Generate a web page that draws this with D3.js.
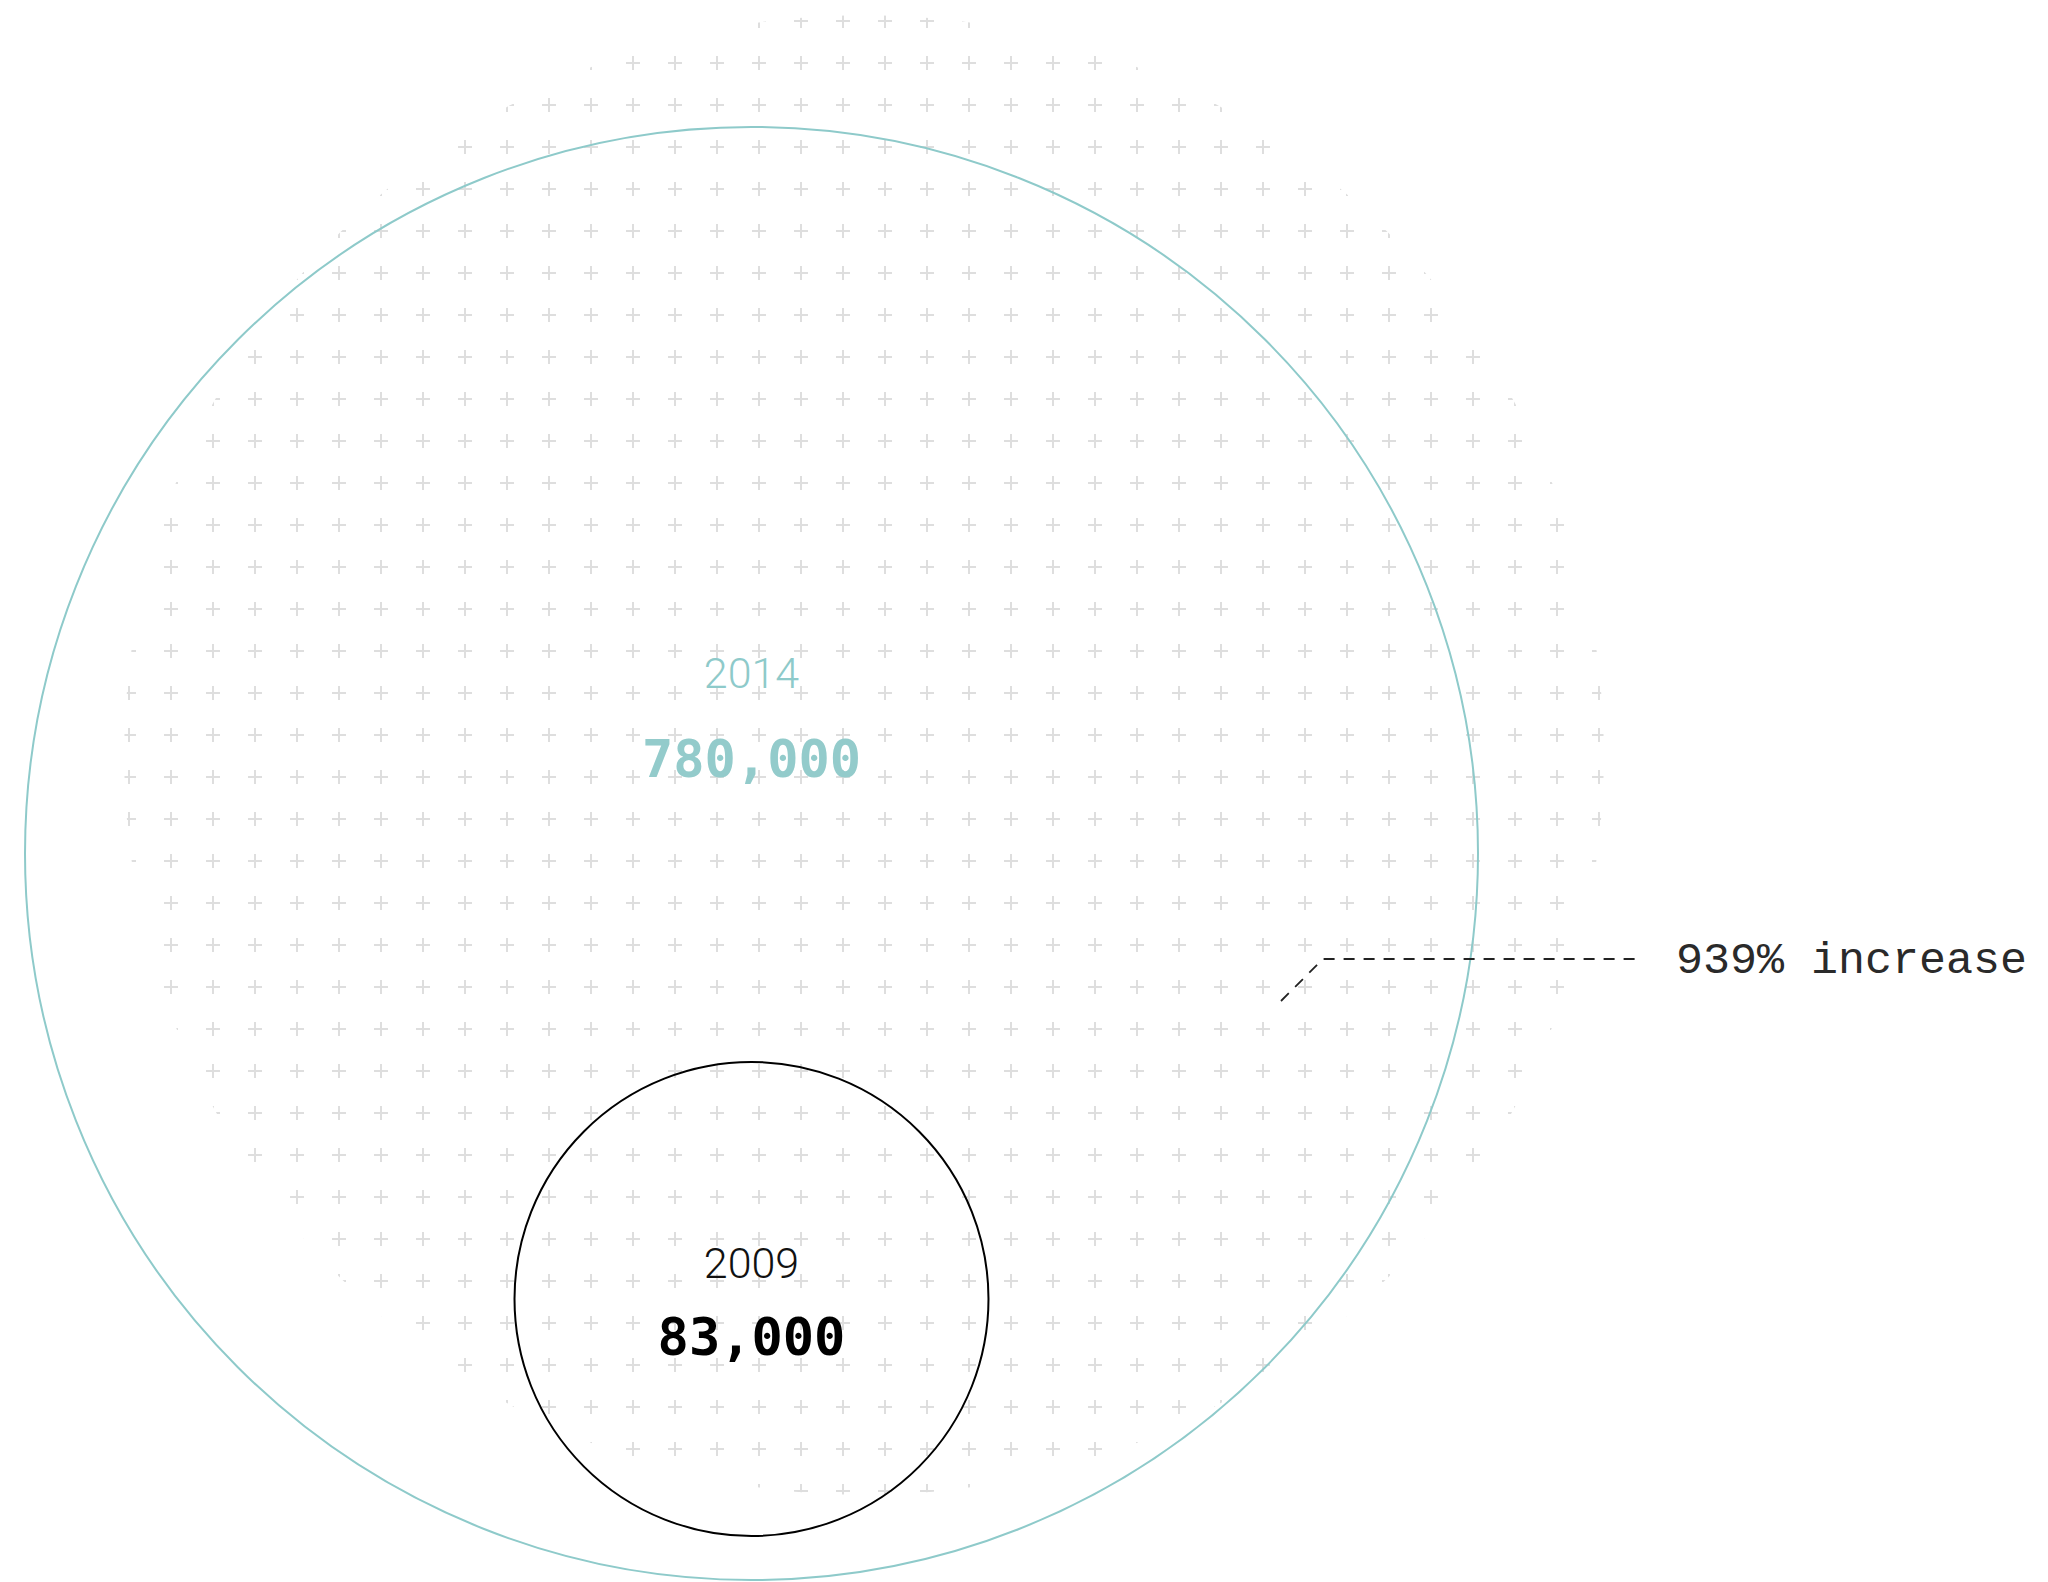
<!DOCTYPE html>
<html>
<head>
<meta charset="utf-8">
<script src="https://cdn.jsdelivr.net/npm/d3@7"></script>
<style>
  html, body { margin: 0; padding: 0; background: #ffffff; }
  svg { display: block; }
</style>
</head>
<body>
<svg id="chart" width="2048" height="1582"></svg>
<script>
// ---- data ----
const years = ["2009", "2014"];
const values = [83000, 780000];
const annotationText = "939% increase";

// ---- layout ----
const W = 2048, H = 1582;
const svg = d3.select("#chart");
const fmt = d3.format(",");

const teal = "#8ecaca";
const maxR = 726.5;
const r = d3.scaleSqrt().domain([0, d3.max(values)]).range([0, maxR]);

const bigCx = 751.5, bigCy = 853.5;
const bigR = r(values[1]);
const smallR = r(values[0]);
const smallCx = bigCx, smallCy = 1536 - smallR;

// ---- background plus pattern ----
const step = 42;
const defs = svg.append("defs");
const pat = defs.append("pattern")
  .attr("id", "plus")
  .attr("patternUnits", "userSpaceOnUse")
  .attr("width", step).attr("height", step)
  .attr("x", 3 - step / 2).attr("y", 0);
const arm = 7;
pat.append("path")
  .attr("d", `M${step/2 - arm},${step/2}H${step/2 + arm}M${step/2},${step/2 - arm}V${step/2 + arm}`)
  .attr("stroke", "#dedede")
  .attr("stroke-width", 2)
  .attr("fill", "none");

svg.append("circle")
  .attr("cx", 864).attr("cy", 755).attr("r", 740)
  .attr("fill", "url(#plus)");

// ---- circles ----
svg.append("circle")
  .attr("cx", bigCx).attr("cy", bigCy).attr("r", bigR)
  .attr("fill", "none").attr("stroke", teal).attr("stroke-width", 2);

svg.append("circle")
  .attr("cx", smallCx).attr("cy", smallCy).attr("r", smallR)
  .attr("fill", "none").attr("stroke", "#000").attr("stroke-width", 2);

// ---- labels ----
const mono = "'DejaVu Sans Mono', 'Liberation Mono', monospace";
const light = "Roboto, 'Noto Sans', sans-serif";

svg.append("text")
  .attr("x", bigCx).attr("y", 688)
  .attr("text-anchor", "middle")
  .attr("font-family", light).attr("font-weight", 300).attr("font-size", 43)
  .attr("fill", teal)
  .text(years[1]);

svg.append("text")
  .attr("x", bigCx).attr("y", 777)
  .attr("text-anchor", "middle")
  .attr("font-family", mono).attr("font-weight", 700).attr("font-size", 52)
  .attr("fill", "#93cbcb")
  .text(fmt(values[1]));

svg.append("text")
  .attr("x", smallCx).attr("y", 1278)
  .attr("text-anchor", "middle")
  .attr("font-family", light).attr("font-weight", 300).attr("font-size", 43)
  .attr("fill", "#111")
  .text(years[0]);

svg.append("text")
  .attr("x", smallCx).attr("y", 1355)
  .attr("text-anchor", "middle")
  .attr("font-family", mono).attr("font-weight", 700).attr("font-size", 52)
  .attr("fill", "#000")
  .text(fmt(values[0]));

// ---- annotation ----
svg.append("path")
  .attr("d", d3.line()([[1281, 1001], [1323, 959], [1639, 959]]))
  .attr("fill", "none")
  .attr("stroke", "#222")
  .attr("stroke-width", 1.8)
  .attr("stroke-dasharray", "11,9");

svg.append("text")
  .attr("x", 1676).attr("y", 973)
  .attr("font-family", "'Liberation Mono', monospace")
  .attr("font-size", 45)
  .attr("fill", "#2a2a2a")
  .text(annotationText);
</script>
</body>
</html>
